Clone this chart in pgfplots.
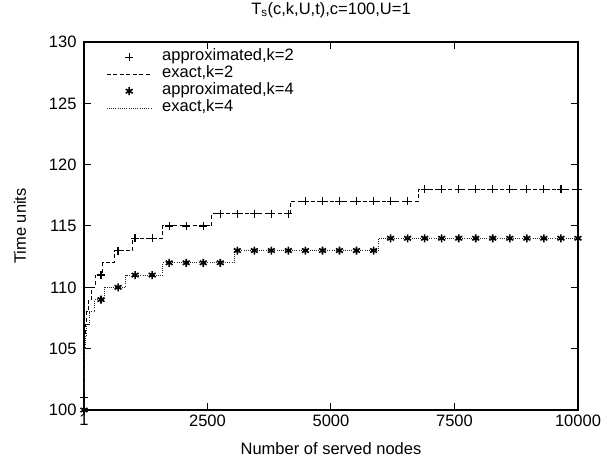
\documentclass[border=0pt]{standalone}
\usepackage{fontspec}
\setmainfont{Liberation Sans}
\usepackage{pgfplots}
\pgfplotsset{compat=1.18}

\newcommand\ff{\fontsize{16.5bp}{18bp}\selectfont}

\begin{document}
\begin{tikzpicture}
\path[use as bounding box] (-84bp,-52bp) rectangle (521bp,410bp);
\begin{axis}[
    at={(0,0)}, anchor=south west,
    scale only axis,
    width=494bp, height=368bp,
    xmin=1, xmax=10000,
    ymin=100, ymax=130,
    scaled x ticks=false, scaled y ticks=false,
    xtick={1,2500,5000,7500,10000},
    xticklabels={1,2500,5000,7500,10000},
    ytick={100,105,110,115,120,125,130},
    yticklabels={100,105,110,115,120,125,130},
    tick align=inside,
    major tick length=7bp,
    tick style={line width=1bp,black},
    axis line style={line width=1.5bp,black},
    ticklabel style={font=\ff},
    yticklabel style={xshift=-4bp},
    xticklabel style={yshift=-1bp},
    title={T\textsubscript{s}(c,k,U,t),c=100,U=1},
    title style={font=\ff, at={(axis description cs:0.5,1)}, anchor=south, yshift=18bp, inner sep=0pt},
    xlabel={Number of served nodes},
    ylabel={Time units},
    every axis x label/.style={at={(axis description cs:0.5,0)}, yshift=-39bp, anchor=center, font=\ff},
    every axis y label/.style={at={(axis description cs:0,0.5)}, xshift=-64bp, rotate=90, anchor=center, font=\ff},
    legend style={at={(axis description cs:0,1)}, anchor=north west, xshift=22bp, yshift=-6.5bp,
        draw=none, fill=none, font=\ff, row sep=0pt, column sep=10bp, inner sep=0pt,
        nodes={inner sep=0pt, text height=12bp, text depth=5bp}},
    legend cell align=left,
    legend image code/.code={\draw[mark repeat=2,mark phase=2,#1] plot coordinates {(0bp,0bp) (22.5bp,0bp) (45bp,0bp)};},
]
\addplot[only marks, mark=+, mark size=4bp, mark options={line width=1.2bp}, black] coordinates {
(1,101) (346,111) (691,113) (1035,114) (1380,114) (1725,115) (2070,115) (2414,115)
(2759,116) (3104,116) (3449,116) (3793,116) (4138,116) (4483,117) (4828,117) (5172,117)
(5517,117) (5862,117) (6207,117) (6551,117) (6896,118) (7241,118) (7586,118) (7930,118)
(8275,118) (8620,118) (8965,118) (9309,118) (9654,118) (10000,118)};
\addlegendentry{approximated,k=2}
\addplot[const plot, no marks, black, line width=1bp, dash pattern=on 4bp off 2.5bp] coordinates {
(1,100) (2,101) (3,102) (5,103) (8,104) (13,105) (21,106) (34,107) (55,108) (89,109)
(144,110) (233,111) (377,112) (610,113) (987,114) (1597,115) (2584,116) (4181,117)
(6765,118) (10000,118)};
\addlegendentry{exact,k=2}
\addplot[only marks, mark=asterisk, mark size=4bp, mark options={line width=1.6bp}, black] coordinates {
(1,100) (346,109) (691,110) (1035,111) (1380,111) (1725,112) (2070,112) (2414,112)
(2759,112) (3104,113) (3449,113) (3793,113) (4138,113) (4483,113) (4828,113) (5172,113)
(5517,113) (5862,113) (6207,114) (6551,114) (6896,114) (7241,114) (7586,114) (7930,114)
(8275,114) (8620,114) (8965,114) (9309,114) (9654,114) (10000,114)};
\addlegendentry{approximated,k=4}
\addplot[const plot, no marks, black!85, line width=1bp, dash pattern=on 1bp off 1.2bp] coordinates {
(1,100) (2,101) (3,102) (5,103) (8,104) (15,105) (29,106) (56,107) (108,108) (215,109)
(418,110) (843,111) (1599,112) (3044,113) (5955,114) (10000,114)};
\addlegendentry{exact,k=4}
\end{axis}
\end{tikzpicture}
\end{document}
